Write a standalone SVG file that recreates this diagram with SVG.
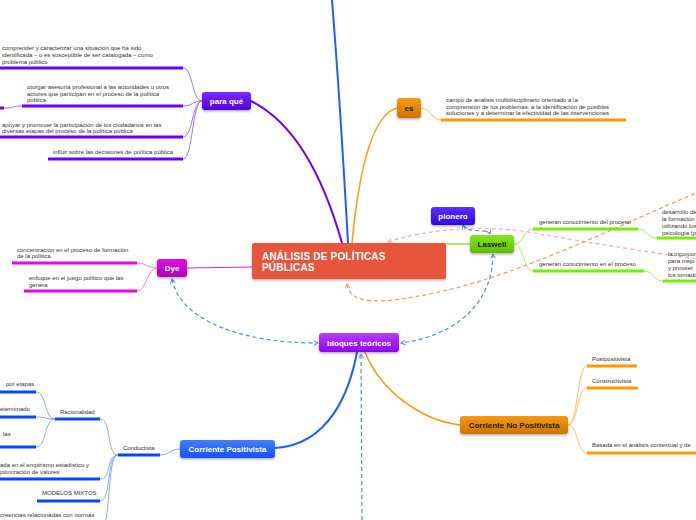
<svg xmlns="http://www.w3.org/2000/svg" width="696" height="520" viewBox="0 0 696 520">
<defs>
<style>
text{font-family:"Liberation Sans",Arial,sans-serif;}
.t{font-size:6px;fill:#333;}
.nt{font-size:8px;font-weight:bold;fill:#fff;text-anchor:middle;}
.nd{font-size:8px;font-weight:bold;fill:#222;text-anchor:middle;}
.ul{fill:none;stroke-width:3;stroke-linecap:butt;}
.c{fill:none;stroke-width:1;}
.dash{fill:none;stroke-width:1.2;stroke-dasharray:4 3;}
</style>
<filter id="sh" x="-20%" y="-30%" width="140%" height="170%">
<feDropShadow dx="0" dy="1.5" stdDeviation="1.2" flood-color="#000" flood-opacity="0.3"/>
</filter>
<linearGradient id="gPurple" x1="0" y1="0" x2="0" y2="1"><stop offset="0" stop-color="#7a2bff"/><stop offset="1" stop-color="#5200e0"/></linearGradient>
<linearGradient id="gMag" x1="0" y1="0" x2="0" y2="1"><stop offset="0" stop-color="#e010e0"/><stop offset="1" stop-color="#b000b8"/></linearGradient>
<linearGradient id="gOr" x1="0" y1="0" x2="0" y2="1"><stop offset="0" stop-color="#f59a10"/><stop offset="1" stop-color="#d07400"/></linearGradient>
<linearGradient id="gGr" x1="0" y1="0" x2="0" y2="1"><stop offset="0" stop-color="#88e620"/><stop offset="1" stop-color="#5cbf00"/></linearGradient>
<linearGradient id="gPi" x1="0" y1="0" x2="0" y2="1"><stop offset="0" stop-color="#5533ff"/><stop offset="1" stop-color="#3300e6"/></linearGradient>
<linearGradient id="gBl" x1="0" y1="0" x2="0" y2="1"><stop offset="0" stop-color="#b540ff"/><stop offset="1" stop-color="#9000ee"/></linearGradient>
<linearGradient id="gCP" x1="0" y1="0" x2="0" y2="1"><stop offset="0" stop-color="#3f80ff"/><stop offset="1" stop-color="#1a50ff"/></linearGradient>
<marker id="aBlue" viewBox="0 0 10 10" refX="9" refY="5" markerWidth="6" markerHeight="6" orient="auto-start-reverse" markerUnits="userSpaceOnUse"><path d="M2,1 L9,5 L2,9" fill="none" stroke="#4a90e2" stroke-width="1.6"/></marker>
<marker id="aOr" viewBox="0 0 10 10" refX="9" refY="5" markerWidth="6" markerHeight="6" orient="auto-start-reverse" markerUnits="userSpaceOnUse"><path d="M2,1 L9,5 L2,9" fill="none" stroke="#f29a6a" stroke-width="1.6"/></marker>
<marker id="aPk" viewBox="0 0 10 10" refX="9" refY="5" markerWidth="6" markerHeight="6" orient="auto-start-reverse" markerUnits="userSpaceOnUse"><path d="M2,1 L9,5 L2,9" fill="none" stroke="#f4a6c4" stroke-width="1.6"/></marker>
</defs>

<g id="connectors">
<path d="M342,243 Q310,130 251,101" fill="none" stroke="#6a00ff" stroke-width="2"/>
<path d="M348,243 Q340,100 332,0" fill="none" stroke="#1f5fff" stroke-width="2"/>
<path d="M352,243 C358,180 370,115 397,108" fill="none" stroke="#ff9f1a" stroke-width="1.6"/>
<path d="M187,268 L252,267" fill="none" stroke="#e020e0" stroke-width="1.2"/>
<path d="M446,244 L470,244" fill="none" stroke="#88dd22" stroke-width="1.4"/>
<path d="M357,352 C350,390 330,445 275,448" fill="none" stroke="#1f5fff" stroke-width="2"/>
<path d="M365,352 C380,390 420,420 460,425" fill="none" stroke="#ff9900" stroke-width="1.6"/>

<path class="c" stroke="#9f70ff" d="M202,101 C192,101 193,68 183,68"/>
<path class="c" stroke="#9f70ff" d="M202,101 C192,101 193,106 183,106"/>
<path class="c" stroke="#9f70ff" d="M202,101 C192,101 193,137 183,137"/>
<path class="c" stroke="#9f70ff" d="M202,101 C192,101 193,159 183,159"/>
<path class="c" stroke="#9f70ff" d="M22,106 C13,106 13,108 4,108"/>
<line class="ul" stroke="#6a00ff" x1="0" y1="68" x2="183" y2="68"/>
<line class="ul" stroke="#6a00ff" x1="22" y1="106" x2="183" y2="106"/>
<line class="ul" stroke="#6a00ff" x1="0" y1="108" x2="4" y2="108"/>
<line class="ul" stroke="#6a00ff" x1="0" y1="137" x2="183" y2="137"/>
<line class="ul" stroke="#6a00ff" x1="48" y1="159" x2="183" y2="159"/>

<path class="c" stroke="#f080f0" d="M157,268 C147,268 147,263 137,263"/>
<path class="c" stroke="#f080f0" d="M157,268 C147,268 147,291 137,291"/>
<line class="ul" stroke="#ee00ee" x1="12" y1="263" x2="137" y2="263"/>
<line class="ul" stroke="#ee00ee" x1="24" y1="291" x2="137" y2="291"/>

<path class="c" stroke="#ffc060" d="M421,108 C431,108 431,120 441,120"/>
<line class="ul" stroke="#ff9900" stroke-width="2.5" x1="441" y1="120" x2="626" y2="120"/>

<path class="c" stroke="#aaee66" d="M514,244 C524,244 523,229 533,229"/>
<path class="c" stroke="#aaee66" d="M514,244 C524,244 523,271 533,271"/>
<path class="c" stroke="#aaee66" d="M638,229 C648,229 647,238 657,238"/>
<path class="c" stroke="#aaee66" d="M644,271 C654,271 653,281 663,281"/>
<line class="ul" stroke="#77ee00" x1="533" y1="229" x2="638" y2="229"/>
<line class="ul" stroke="#77ee00" x1="533" y1="271" x2="644" y2="271"/>
<line class="ul" stroke="#77ee00" x1="657" y1="238" x2="696" y2="238"/>
<line class="ul" stroke="#77ee00" x1="663" y1="281" x2="696" y2="281"/>

<path class="c" stroke="#ffc060" d="M568,425 C578,425 577,366 587,366"/>
<path class="c" stroke="#ffc060" d="M568,425 C578,425 577,388 587,388"/>
<path class="c" stroke="#ffc060" d="M568,425 C578,425 577,453 587,453"/>
<line class="ul" stroke="#ff9900" stroke-width="2.5" x1="587" y1="366" x2="637" y2="366"/>
<line class="ul" stroke="#ff9900" stroke-width="2.5" x1="587" y1="388" x2="638" y2="388"/>
<line class="ul" stroke="#ff9900" stroke-width="2.5" x1="587" y1="453" x2="696" y2="453"/>

<path class="c" stroke="#88aaff" d="M180,449 C170,449 170,455 160,455"/>
<path class="c" stroke="#88aaff" d="M118,455 C106,455 112,419 100,419"/>
<path class="c" stroke="#88aaff" d="M118,455 C106,455 112,479 100,479"/>
<path class="c" stroke="#88aaff" d="M118,455 C106,455 112,501 100,501"/>
<path class="c" stroke="#88aaff" d="M118,455 C106,455 112,530 100,530"/>
<path class="c" stroke="#88aaff" d="M55,419 C44,419 47,392 36,392"/>
<path class="c" stroke="#88aaff" d="M55,419 C44,419 47,417 36,417"/>
<path class="c" stroke="#88aaff" d="M55,419 C44,419 47,447 36,447"/>
<line class="ul" stroke="#0a46ff" x1="118" y1="455" x2="160" y2="455"/>
<line class="ul" stroke="#0a46ff" x1="55" y1="419" x2="100" y2="419"/>
<line class="ul" stroke="#0a46ff" x1="0" y1="479" x2="100" y2="479"/>
<line class="ul" stroke="#0a46ff" x1="37" y1="501" x2="100" y2="501"/>
<line class="ul" stroke="#0a46ff" x1="0" y1="392" x2="36" y2="392"/>
<line class="ul" stroke="#0a46ff" x1="0" y1="417" x2="36" y2="417"/>
<line class="ul" stroke="#0a46ff" x1="0" y1="447" x2="36" y2="447"/>

<path class="dash" stroke="#f4a6c4" d="M388,242 C430,228 490,224 540,234 C590,243 650,252 696,259" marker-start="url(#aPk)"/>
<path class="dash" stroke="#f29a6a" d="M347,284 C350,308 390,304 460,287 C540,265 620,225 696,193" marker-start="url(#aOr)"/>
<path class="dash" stroke="#4a90e2" d="M172,279 C180,320 240,343 318,343" marker-start="url(#aBlue)" marker-end="url(#aBlue)"/>
<path class="dash" stroke="#4a90e2" d="M493,254 C493,300 460,335 401,343" marker-start="url(#aBlue)" marker-end="url(#aBlue)"/>
<path class="dash" stroke="#4a90e2" d="M362,520 L361,354" marker-end="url(#aBlue)"/>
<path class="dash" stroke="#4a90e2" d="M463,225 C466,234 488,228 490,234" marker-start="url(#aBlue)" marker-end="url(#aBlue)"/>
</g>

<g id="central">
<rect x="252" y="243" width="194" height="36" rx="2" fill="#e8553d" filter="url(#sh)"/>
<text x="262" y="260" style="font-size:10px;font-weight:bold;fill:#fff;letter-spacing:0.2px">ANÁLISIS DE POLÍTICAS</text>
<text x="262" y="271" style="font-size:10px;font-weight:bold;fill:#fff;letter-spacing:0.2px">PÚBLICAS</text>
</g>

<g id="para-que">
<rect x="202" y="92" width="49" height="18" rx="3" fill="url(#gPurple)" filter="url(#sh)"/>
<text class="nt" x="226.5" y="104">para qué</text>
</g>
<g id="pq1"><text class="t" x="2" y="50">comprender y caracterizar una situación que ha sido</text><text class="t" x="2" y="57">identificada – o es susceptible de ser catalogada – como</text><text class="t" x="2" y="64">problema público</text></g>
<g id="pq2"><text class="t" x="27" y="89">otorgar asesoría profesional a las autoridades u otros</text><text class="t" x="27" y="96">actores que participan en el proceso de la política</text><text class="t" x="27" y="102">pública</text></g>
<g id="pq3"><text class="t" x="2" y="127">apoyar y promover la participación de los ciudadanos en las</text><text class="t" x="2" y="133">diversas etapas del proceso de la política pública</text></g>
<g id="pq4"><text class="t" x="53" y="154">influir sobre las decisiones de política pública</text></g>

<g id="dye">
<rect x="157" y="259" width="30" height="18" rx="3" fill="url(#gMag)" filter="url(#sh)"/>
<text class="nt" x="172" y="271">Dye</text>
</g>
<g id="dye1"><text class="t" x="17" y="252">concentración en el proceso de formación</text><text class="t" x="17" y="258">de la política</text></g>
<g id="dye2"><text class="t" x="29" y="280">enfoque en el juego político que las</text><text class="t" x="29" y="287">genera</text></g>

<g id="es">
<rect x="397" y="98" width="24" height="20" rx="3" fill="url(#gOr)" filter="url(#sh)"/>
<text class="nd" x="409" y="111">es</text>
</g>
<g id="es1"><text class="t" x="446" y="102">campo de análisis multidisciplinario orientado a la</text><text class="t" x="446" y="109">comprensión de los problemas, a la identificación de posibles</text><text class="t" x="446" y="115">soluciones y a determinar la efectividad de las intervenciones</text></g>

<g id="pionero">
<rect x="431" y="207" width="44" height="18" rx="3" fill="url(#gPi)" filter="url(#sh)"/>
<text class="nt" x="453" y="219">pionero</text>
</g>
<g id="laswell">
<rect x="470" y="235" width="44" height="18" rx="3" fill="url(#gGr)" filter="url(#sh)"/>
<text class="nd" x="492" y="247">Laswell</text>
</g>
<g id="las1"><text class="t" x="539" y="224">generan conocimiento del proceso</text></g>
<g id="las2"><text class="t" x="539" y="266">generan conocimiento en el proceso</text></g>
<g id="las1a"><text class="t" x="662" y="214">desarrollo de</text><text class="t" x="662" y="221">la formación</text><text class="t" x="662" y="228">utilizando los</text><text class="t" x="662" y="235">psicología (p</text></g>
<g id="las2a"><text class="t" x="668" y="256">la incorpor</text><text class="t" x="668" y="263">para mejo</text><text class="t" x="668" y="270">y proveer</text><text class="t" x="668" y="277">los tomado</text></g>

<g id="bloques">
<rect x="319" y="333" width="80" height="19" rx="3" fill="url(#gBl)" filter="url(#sh)"/>
<text class="nt" x="359" y="345.5">bloques teóricos</text>
</g>

<g id="positivista">
<rect x="180" y="440" width="95" height="18" rx="3" fill="url(#gCP)" filter="url(#sh)"/>
<text class="nt" x="227.5" y="452">Corriente Positivista</text>
</g>
<g id="conductista"><text class="t" x="123" y="450">Conductista</text></g>
<g id="racionalidad"><text class="t" x="60" y="414">Racionalidad</text></g>
<g id="rac1"><text class="t" x="6" y="386">por etapas</text></g>
<g id="rac2"><text class="t" x="0" y="411">eterminado</text></g>
<g id="rac3"><text class="t" x="3" y="436">las</text></g>
<g id="cond2"><text class="t" x="0" y="467">ada en el empirismo estadístico y</text><text class="t" x="0" y="474">ptimización de valores</text></g>
<g id="mixtos"><text class="t" x="42" y="495">MODELOS MIXTOS</text></g>
<g id="cond4"><text class="t" x="0" y="517">creencias relacionadas con normas</text></g>

<g id="no-positivista">
<rect x="460" y="416" width="108" height="18" rx="3" fill="url(#gOr)" filter="url(#sh)"/>
<text class="nd" x="514" y="428">Corriente No Positivista</text>
</g>
<g id="np1"><text class="t" x="592" y="361">Postpositivista</text></g>
<g id="np2"><text class="t" x="592" y="383">Constructivista</text></g>
<g id="np3"><text class="t" x="592" y="447">Basada en el análisis contextual y de</text></g>
</svg>
